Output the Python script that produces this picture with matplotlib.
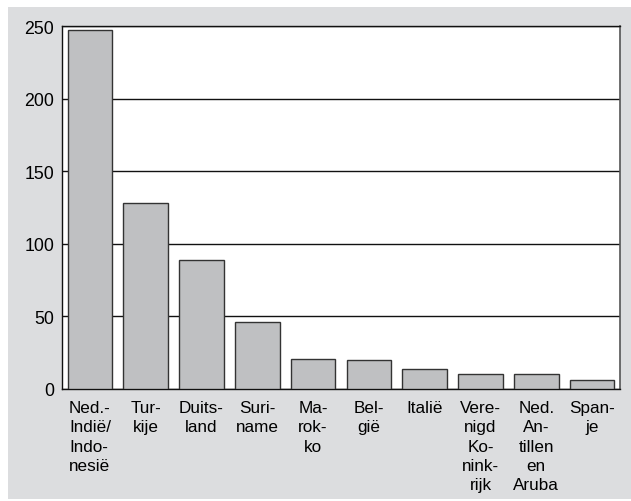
import matplotlib.pyplot as plt
from matplotlib.patches import Rectangle

plt.rcParams['font.family'] = ['Liberation Sans', 'DejaVu Sans']

landen = ['Ned.-\nIndië/\nIndo-\nnesië', 'Tur-\nkije', 'Duits-\nland', 'Suri-\nname',
          'Ma-\nrok-\nko', 'Bel-\ngië', 'Italië', 'Vere-\nnigd\nKo-\nnink-\nrijk',
          'Ned.\nAn-\ntillen\nen\nAruba', 'Span-\nje']
aantal = [247, 128, 89, 46, 21, 20, 14, 10, 10, 6]
yticks = [0, 50, 100, 150, 200, 250]

fig = plt.figure(figsize=(6.31, 5.02), dpi=100, facecolor='white')
# grey panel behind the chart
fig.patches.append(Rectangle((8 / 631, 2 / 502), 623 / 631, 492 / 502,
                             transform=fig.transFigure, facecolor='#dcdddf',
                             edgecolor='none', zorder=-1))

ax = fig.add_axes([62 / 631, 112 / 502, 558 / 631, 363 / 502])
ax.set_zorder(2)
ax.set_facecolor('white')

x = range(len(aantal))
ax.bar(x, aantal, width=0.8, color='#bfc0c2', edgecolor='#333333', linewidth=1.0, zorder=3)

ax.set_xlim(-0.5, len(aantal) - 0.5)
ax.set_ylim(0, 250)
ax.set_yticks(yticks)
ax.set_xticks(list(x))
ax.set_xticklabels(landen, fontsize=12.3, linespacing=1.36, va='top')
ax.get_xticklabels()[0].set_multialignment('left')
for t in ax.get_yticklabels():
    t.set_fontsize(12.8)
ax.tick_params(axis='both', length=0)
ax.tick_params(axis='y', pad=5.5)
ax.tick_params(axis='x', pad=8)

ax.yaxis.grid(True, color='#111111', linewidth=1.0, zorder=1)
ax.set_axisbelow(True)

for s in ['top', 'left', 'bottom']:
    ax.spines[s].set_color('#111111')
    ax.spines[s].set_linewidth(1.0)
ax.spines['right'].set_color('#555555')
ax.spines['right'].set_linewidth(1.2)

plt.savefig('out.png', dpi=100, facecolor=fig.get_facecolor())
plt.close()
